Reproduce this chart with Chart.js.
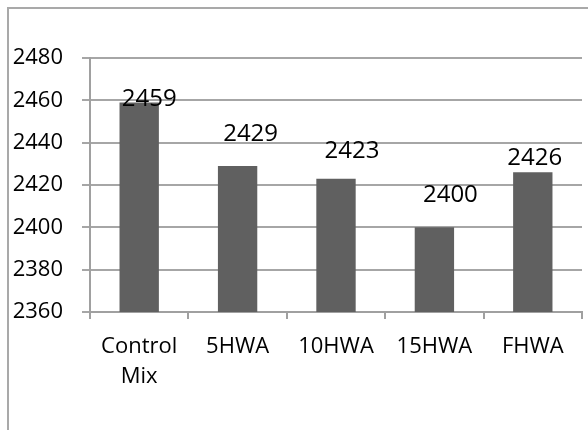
<!DOCTYPE html>
<html>
<head>
<meta charset="utf-8">
<script src="https://cdn.jsdelivr.net/npm/chart.js@4.4.0/dist/chart.umd.min.js"></script>
<style>
  html, body { margin: 0; padding: 0; background: #fff; }
  #wrap { position: relative; width: 588px; height: 430px; overflow: hidden; }
  #frame { position: absolute; left: 7px; top: 7px; width: 600px; height: 440px;
           border-top: 2px solid #a9a9a9; border-left: 2px solid #a9a9a9; box-sizing: border-box; }
  canvas { position: absolute; left: 0; top: 0; }
</style>
</head>
<body>
<div id="wrap">
  <div id="frame"></div>
  <canvas id="chart1" width="588" height="430"></canvas>
</div>
<script>
// categorias e valores
var categories = [['Control', 'Mix'], '5HWA', '10HWA', '15HWA', 'FHWA'];
var values = [2459, 2429, 2423, 2400, 2426];
var yTicks = [2360, 2380, 2400, 2420, 2440, 2460, 2480];

var fontFamily = "'Open Sans', 'DejaVu Sans', sans-serif";

// rotulos em cima das barras (deslocamentos como no original)
var barLabels = {
  id: 'barLabels',
  afterDatasetsDraw: function(chart, args, opts) {
    var ctx = chart.ctx;
    var meta = chart.getDatasetMeta(0);
    ctx.save();
    ctx.font = '24px ' + fontFamily;
    ctx.fillStyle = '#000';
    ctx.textAlign = 'center';
    ctx.textBaseline = 'alphabetic';
    meta.data.forEach(function(bar, i) {
      var v = chart.data.datasets[0].data[i];
      ctx.fillText(String(v), bar.x + opts.dx[i], bar.y - opts.lift[i]);
    });
    ctx.restore();
  }
};

var ctx1 = document.getElementById('chart1').getContext('2d');
new Chart(ctx1, {
  type: 'bar',
  data: {
    labels: categories,
    datasets: [{
      data: values,
      backgroundColor: '#606060',
      borderWidth: 0,
      barPercentage: 0.4,
      categoryPercentage: 1
    }]
  },
  options: {
    responsive: false,
    animation: false,
    layout: { padding: { top: 58, right: 6, left: 0, bottom: 0 } },
    plugins: {
      legend: { display: false },
      tooltip: { enabled: false },
      barLabels: { dx: [10, 13, 16, 16, 2], lift: [-4, 25, 21, 25, 7] }
    },
    scales: {
      x: {
        afterFit: function(scale) { scale.height = 118; },
        grid: { drawOnChartArea: false, drawTicks: true, tickLength: 7, color: '#a0a0a0', lineWidth: 2, offset: true },
        border: { color: '#a0a0a0', width: 2 },
        ticks: { color: '#000', font: { family: fontFamily, size: 22, lineHeight: 1.35 }, padding: 13, maxRotation: 0, autoSkip: false }
      },
      y: {
        min: 2360,
        max: 2480,
        afterFit: function(scale) { scale.width = 90; },
        afterBuildTicks: function(scale) {
          scale.ticks = yTicks.map(function(v) { return { value: v }; });
        },
        grid: { color: '#a6a6a6', lineWidth: 2, tickLength: 8 },
        border: { color: '#a0a0a0', width: 2 },
        ticks: {
          color: '#000', font: { family: fontFamily, size: 22 }, padding: 19,
          callback: function(v) { return String(v); }
        }
      }
    }
  },
  plugins: [barLabels]
});
</script>
</body>
</html>
